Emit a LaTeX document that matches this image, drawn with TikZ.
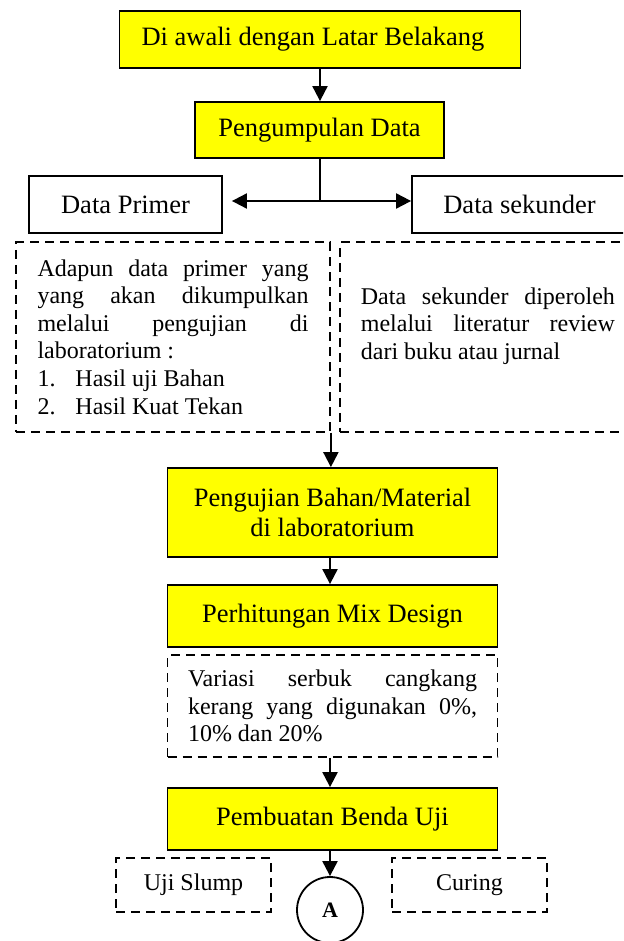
\documentclass[tikz,border=0pt]{standalone}
\usepackage{fontspec}
\setmainfont{Liberation Serif}
\usetikzlibrary{positioning,arrows.meta}
\tikzset{>={Triangle[length=15pt,width=15pt]}}
\definecolor{kuning}{RGB}{255,255,0}
\newcommand{\besar}{\fontsize{26.5}{30.4}\selectfont}
\newcommand{\kecil}{\fontsize{24}{27.6}\selectfont}
\setlength{\parindent}{0pt}
\hbadness=10000

\begin{document}
\begin{tikzpicture}[x=1pt, y=-1pt, line width=1.8pt, align=center]
\tikzset{kotak/.style={rectangle, draw=black, fill=kuning, font=\besar, inner sep=2pt, minimum width=330pt, minimum height=62pt},
putih/.style={rectangle, draw=black, fill=white, font=\besar, inner sep=2pt, minimum width=193pt, minimum height=57pt},
putus/.style={rectangle, draw=black, dash pattern=on 9pt off 6pt, font=\kecil, align=justify}}
\tikzset{panah/.style={->, line width=2pt}}
\useasboundingbox (0,0) rectangle (623,941);
\clip (0,0) rectangle (623,941);

\node[kotak, minimum width=401pt, minimum height=57pt] (latar) at (320,39.5) {Di awali dengan Latar Belakang\hspace*{14pt}};
\node[kotak, minimum width=249pt, minimum height=56pt] (kumpul) at (319.5,130) {Pengumpulan Data};
\node[putih] (primer) at (125.5,204.5) {Data Primer};
\node[putih, minimum width=215pt] (sekunder) at (519.5,204.5) {Data sekunder};

% keterangan data
\node[putus, text width=271pt, inner xsep=21.5pt, inner ysep=0pt, minimum height=189.5pt] (ketprimer) at (173,337)
	{Adapun data primer yang\linebreak yang akan dikumpulkan\linebreak melalui pengujian di\linebreak laboratorium :\par
	\makebox[38pt][l]{1.}Hasil uji Bahan\par
	\makebox[38pt][l]{2.}Hasil Kuat Tekan};
\node[putus, minimum width=300pt, minimum height=189.5pt] (sekbox) at (490,337) {};
\node[font=\kecil, text width=254pt, inner sep=0pt, align=justify, anchor=north west] (ketsekunder) at (360,286.5)
	{Data sekunder diperoleh\linebreak melalui literatur review\linebreak dari buku atau jurnal};

\node[kotak, minimum height=89pt] (uji) at (332.5,512.5) {Pengujian Bahan/Material\\di laboratorium};
\node[kotak] (mix) at (332.5,616) {Perhitungan Mix Design};
\node[putus, text width=289pt, inner xsep=20.5pt, inner ysep=0pt, minimum height=102pt] (variasi) at (332.5,706)
	{Variasi serbuk cangkang\linebreak kerang yang digunakan 0\%,\linebreak 10\% dan 20\%};
\node[kotak] (buat) at (332.5,819) {Pembuatan Benda Uji};
\node[circle, draw, minimum size=66pt, inner sep=0pt, font=\fontsize{22}{24}\selectfont\bfseries] (A) at (330,910) {A};
\node[putus, minimum width=155pt, minimum height=54pt, align=center] (slump) at (193.5,885) {Uji Slump};
\node[putus, minimum width=155pt, minimum height=54pt, align=center] (curing) at (469.5,885) {Curing};

\coordinate (cabang) at (320,201);
\draw[panah] (latar.south) -- (latar.south |- kumpul.north);
\draw[line width=2pt] (kumpul.south -| cabang) -- (cabang);
\draw[panah, shorten >=9pt] (cabang) -- (cabang -| primer.east);
\draw[panah] (cabang) -- (cabang -| sekunder.west);
\draw[panah] (ketprimer.south east) -- (ketprimer.south east |- uji.north);
\draw[panah] (uji.south -| A) -- (mix.north -| A);
\draw[panah] (variasi.south -| A) -- (buat.north -| A);
\draw[panah] (buat.south -| A) -- (A);

\end{tikzpicture}
\end{document}
